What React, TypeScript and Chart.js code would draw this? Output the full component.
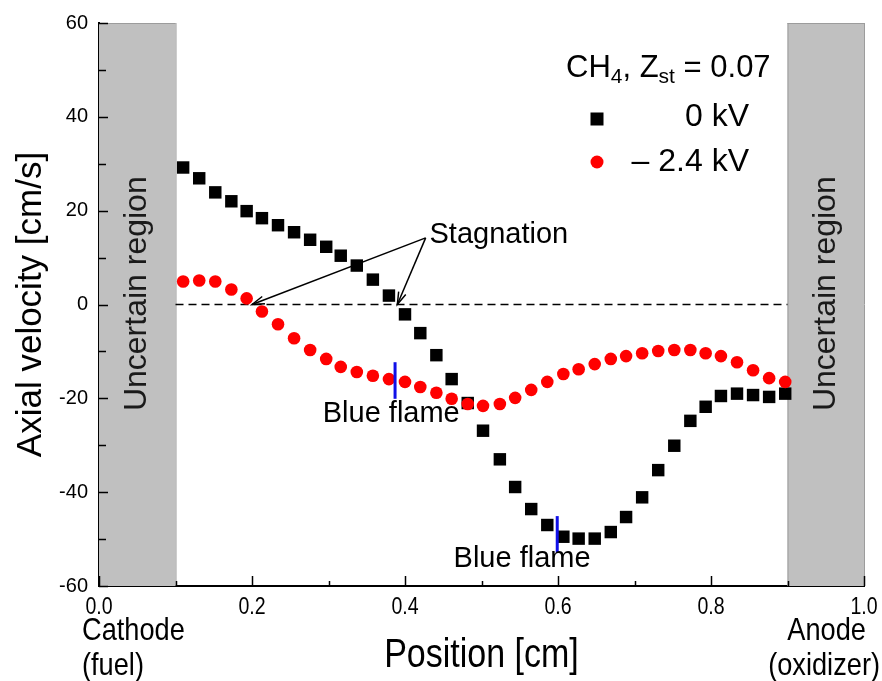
import { useEffect, useRef } from 'react';
import { Chart, registerables } from 'chart.js';
Chart.register(...registerables);

const positions = [0.110, 0.131, 0.152, 0.173, 0.193, 0.213, 0.234, 0.255, 0.276, 0.297, 0.316, 0.337, 0.358, 0.379, 0.400, 0.420, 0.441, 0.461, 0.482, 0.502, 0.524, 0.544, 0.565, 0.586, 0.607, 0.627, 0.648, 0.669, 0.689, 0.710, 0.731, 0.752, 0.773, 0.793, 0.813, 0.834, 0.855, 0.876, 0.897];
const velocity0kV = [29.2, 26.9, 23.9, 22.0, 19.9, 18.4, 16.9, 15.4, 13.8, 12.3, 10.4, 8.3, 5.3, 1.9, -2.1, -6.1, -10.8, -15.9, -21.0, -26.9, -33.0, -38.9, -43.6, -47.0, -49.5, -49.9, -49.9, -48.5, -45.3, -41.1, -35.3, -30.1, -24.8, -21.8, -19.5, -19.0, -19.3, -19.7, -19.0];
const velocityNeg24kV = [4.9, 5.1, 4.9, 3.2, 1.3, -1.5, -4.2, -7.2, -9.7, -11.6, -13.3, -14.4, -15.2, -15.9, -16.5, -17.6, -18.8, -20.1, -21.2, -21.6, -21.2, -19.9, -18.2, -16.5, -14.8, -13.8, -12.7, -11.6, -11.0, -10.4, -9.9, -9.7, -9.7, -10.4, -11.0, -12.3, -14.0, -15.7, -16.5];
const seriesLabels = ['0 kV', '\u2013 2.4 kV'];
const xTickValues = [0, 0.2, 0.4, 0.6, 0.8, 1.0];
const xRange = [0, 1];
const yRange = [-60, 60];
const uncertainLeft = [0, 0.1];
const uncertainRight = [0.9, 1.0];
const stagnationPoints = [0.2, 0.39];
const blueFlames = [
  { x: 0.387, y1: -12.3, y2: -20.1, tx: 0.382, ty: -23.3 },
  { x: 0.599, y1: -45.1, y2: -52.9, tx: 0.553, ty: -54.2 },
];

const SANS = '"Liberation Sans", Arial, sans-serif';
const NARROW_SCALE = 0.85;

function narrowText(ctx: CanvasRenderingContext2D, text: string, x: number, y: number, size: number, align: CanvasTextAlign) {
  ctx.save();
  ctx.font = size + 'px ' + SANS;
  ctx.textAlign = align;
  ctx.textBaseline = 'middle';
  ctx.translate(x, y);
  ctx.scale(NARROW_SCALE, 1);
  ctx.fillText(text, 0, 0);
  ctx.restore();
}

function arrow(ctx: CanvasRenderingContext2D, x0: number, y0: number, x1: number, y1: number) {
  ctx.beginPath();
  ctx.moveTo(x0, y0);
  ctx.lineTo(x1, y1);
  ctx.stroke();
  const ang = Math.atan2(y1 - y0, x1 - x0);
  const L = 13, w = 0.3;
  ctx.beginPath();
  ctx.moveTo(x1 - L * Math.cos(ang - w), y1 - L * Math.sin(ang - w));
  ctx.lineTo(x1, y1);
  ctx.lineTo(x1 - L * Math.cos(ang + w), y1 - L * Math.sin(ang + w));
  ctx.stroke();
}

const annotPlugin = {
  id: 'annot',
  beforeDatasetsDraw(chart: any) {
    const { ctx, chartArea: a, scales } = chart;
    const x = scales.x, y = scales.y;
    ctx.save();
    ctx.fillStyle = '#c0c0c0';
    const l0 = x.getPixelForValue(uncertainLeft[0]), l1 = x.getPixelForValue(uncertainLeft[1]);
    const r0 = x.getPixelForValue(uncertainRight[0]), r1 = x.getPixelForValue(uncertainRight[1]);
    ctx.fillRect(l0, a.top, l1 - l0, a.bottom - a.top);
    ctx.fillRect(r0, a.top, r1 - r0, a.bottom - a.top);
    ctx.strokeStyle = '#9c9c9c';
    ctx.lineWidth = 1;
    [l1, r0, r1].forEach((px) => {
      ctx.beginPath();
      ctx.moveTo(px + 0.5, a.top);
      ctx.lineTo(px + 0.5, a.bottom);
      ctx.stroke();
    });
    ctx.beginPath();
    ctx.moveTo(l0, a.top + 0.5); ctx.lineTo(l1, a.top + 0.5);
    ctx.moveTo(r0, a.top + 0.5); ctx.lineTo(r1, a.top + 0.5);
    ctx.stroke();
    // dashed zero line
    ctx.strokeStyle = '#000';
    ctx.lineWidth = 1.5;
    ctx.setLineDash([8, 5]);
    const y0 = y.getPixelForValue(0);
    ctx.beginPath();
    ctx.moveTo(l1, y0);
    ctx.lineTo(r0, y0);
    ctx.stroke();
    ctx.setLineDash([]);
    // Uncertain region labels
    ctx.fillStyle = '#1a1a1a';
    ctx.font = '32px ' + SANS;
    ctx.textAlign = 'center';
    ctx.textBaseline = 'middle';
    [(uncertainLeft[0] + uncertainLeft[1]) / 2, (uncertainRight[0] + uncertainRight[1]) / 2].forEach((cx) => {
      ctx.save();
      ctx.translate(x.getPixelForValue(cx), y.getPixelForValue(2.3));
      ctx.rotate(-Math.PI / 2);
      ctx.fillText('Uncertain region', 0, 0);
      ctx.restore();
    });
    ctx.restore();
  },
  afterDatasetsDraw(chart: any) {
    const { ctx, chartArea: a, scales } = chart;
    const x = scales.x, y = scales.y;
    ctx.save();
    // blue flames
    ctx.strokeStyle = '#1010e8';
    ctx.lineWidth = 3;
    blueFlames.forEach((b) => {
      const px = x.getPixelForValue(b.x);
      ctx.beginPath();
      ctx.moveTo(px, y.getPixelForValue(b.y1));
      ctx.lineTo(px, y.getPixelForValue(b.y2));
      ctx.stroke();
    });
    ctx.fillStyle = '#000';
    ctx.font = '29px ' + SANS;
    ctx.textAlign = 'center';
    ctx.textBaseline = 'middle';
    blueFlames.forEach((b) => {
      ctx.fillText('Blue flame', x.getPixelForValue(b.tx), y.getPixelForValue(b.ty));
    });
    // Stagnation
    ctx.textAlign = 'left';
    ctx.fillText('Stagnation', x.getPixelForValue(0.432), y.getPixelForValue(14.8));
    ctx.strokeStyle = '#000';
    ctx.lineWidth = 1.5;
    const sx = x.getPixelForValue(0.427), sy = y.getPixelForValue(14.2);
    stagnationPoints.forEach((p) => {
      arrow(ctx, sx, sy, x.getPixelForValue(p), y.getPixelForValue(0));
    });
    // ticks inward
    ctx.lineWidth = 1.5;
    for (let i = 0; i <= 10; i++) {
      const v = i / 10;
      const px = Math.round(x.getPixelForValue(v)) + 0.5;
      const len = i % 2 === 0 ? 10 : 5;
      ctx.beginPath();
      ctx.moveTo(px, a.bottom);
      ctx.lineTo(px, a.bottom - len);
      ctx.stroke();
    }
    for (let v = yRange[0]; v <= yRange[1]; v += 10) {
      const py = Math.round(y.getPixelForValue(v)) + 0.5;
      const len = v % 20 === 0 ? 9 : 7;
      ctx.beginPath();
      ctx.moveTo(a.left, py);
      ctx.lineTo(a.left + len, py);
      ctx.stroke();
    }
    // x tick labels (narrow)
    ctx.fillStyle = '#000';
    xTickValues.forEach((v) => {
      narrowText(ctx, v.toFixed(1), x.getPixelForValue(v), a.bottom + 22, 23, 'center');
    });
    // legend
    const big = '31px ' + SANS, small = '21px ' + SANS;
    let lx = a.left + 467;
    const ly = a.top + 45;
    ctx.textBaseline = 'middle';
    ctx.textAlign = 'left';
    const parts: [string, string, number][] = [['CH', big, 0], ['4', small, 9], [', Z', big, 0], ['st', small, 9], [' = 0.07', big, 0]];
    parts.forEach(([t, f, dy]) => {
      ctx.font = f;
      ctx.fillText(t, lx, ly + dy);
      lx += ctx.measureText(t).width;
    });
    ctx.font = '32px ' + SANS;
    ctx.textAlign = 'right';
    const mx = a.left + 498;
    const rx = a.left + 650;
    ctx.fillText(seriesLabels[0], rx, a.top + 94);
    ctx.fillText(seriesLabels[1], rx, a.top + 139);
    ctx.fillStyle = '#000';
    ctx.fillRect(mx - 6.5, a.top + 96 - 6.5, 13, 13);
    ctx.fillStyle = '#ff0000';
    ctx.beginPath();
    ctx.arc(mx, a.top + 139, 6.5, 0, Math.PI * 2);
    ctx.fill();
    // axis text
    ctx.fillStyle = '#000';
    ctx.textAlign = 'center';
    ctx.font = '35px ' + SANS;
    ctx.save();
    ctx.translate(31, (a.top + a.bottom) / 2);
    ctx.rotate(-Math.PI / 2);
    ctx.fillText('Axial velocity [cm/s]', 0, 0);
    ctx.restore();
    narrowText(ctx, 'Position [cm]', (a.left + a.right) / 2, a.bottom + 70, 40, 'center');
    narrowText(ctx, 'Cathode', a.left - 17, a.bottom + 45, 32, 'left');
    narrowText(ctx, '(fuel)', a.left - 17, a.bottom + 80, 32, 'left');
    narrowText(ctx, 'Anode', a.right + 2, a.bottom + 45, 32, 'right');
    narrowText(ctx, '(oxidizer)', a.right + 16, a.bottom + 80, 32, 'right');
    ctx.restore();
  },
};

export default function App() {
  const ref = useRef<HTMLCanvasElement | null>(null);
  useEffect(() => {
    document.body.style.margin = '0';
    const canvas = ref.current;
    if (!canvas) return;
    const chart = new Chart(canvas, {
      type: 'scatter',
      data: {
        datasets: [
          {
            label: seriesLabels[1],
            data: positions.map((p, i) => ({ x: p, y: velocityNeg24kV[i] })),
            pointStyle: 'circle',
            pointRadius: 6.3,
            pointBackgroundColor: '#ff0000',
            pointBorderWidth: 0,
            borderColor: '#ff0000',
            order: 0,
          },
          {
            label: seriesLabels[0],
            data: positions.map((p, i) => ({ x: p, y: velocity0kV[i] })),
            pointStyle: 'rect',
            pointRadius: 8.8,
            pointBackgroundColor: '#000',
            pointBorderWidth: 0,
            borderColor: '#000',
            order: 1,
          },
        ],
      },
      options: {
        responsive: false,
        animation: false,
        events: [],
        layout: { padding: { top: 19, right: 18, left: 0, bottom: 0 } },
        plugins: { legend: { display: false }, tooltip: { enabled: false } },
        scales: {
          x: {
            type: 'linear',
            min: xRange[0],
            max: xRange[1],
            grid: { display: false, drawTicks: false },
            border: { display: true, color: '#000', width: 2 },
            afterFit: (s: any) => { s.height = 95; },
            ticks: { display: false, stepSize: 0.1 },
          },
          y: {
            type: 'linear',
            min: yRange[0],
            max: yRange[1],
            grid: { display: false, drawTicks: false },
            border: { display: true, color: '#000', width: 2 },
            afterFit: (s: any) => { s.width = 99; },
            ticks: {
              stepSize: 10,
              autoSkip: false,
              padding: 11,
              color: '#000',
              font: { family: SANS, size: 20 },
              callback: (v: any) => (Number(v) % 20 === 0 ? String(v) : ''),
            },
          },
        },
      },
      plugins: [annotPlugin],
    });
    return () => chart.destroy();
  }, []);
  return (
    <div style={{ width: 882, height: 681 }}>
      <canvas ref={ref} width={882} height={681} />
    </div>
  );
}
